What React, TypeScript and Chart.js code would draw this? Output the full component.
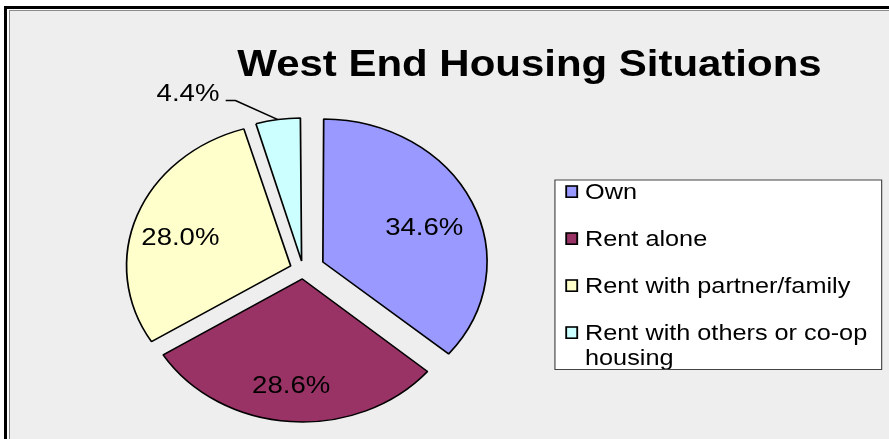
import React, { useEffect, useRef } from 'react';
import { Chart, registerables } from 'chart.js';

Chart.register(...registerables);

// ---- data ----
const categories = ['Own', 'Rent alone', 'Rent with partner/family', 'Rent with others or co-op housing'];
const shares = [34.6, 28.6, 28.0, 4.4];
const sliceColors = ['#9999FF', '#993366', '#FFFFCC', '#CCFFFF'];
const explodeOffsets = [76, 36, 46, 36];
const chartTitle = 'West End Housing Situations';

// ---- layout / style ----
const W = 889;
const H = 439;
const SX = 1.148; // horizontal stretch of the whole picture
const CX = 264;
const CY = 270;
const R = 143;
const FONT = '"Liberation Sans", Arial, Helvetica, sans-serif';

const stretchPlugin = {
  id: 'stretchAndDecor',
  afterDatasetUpdate(chart: any, args: any) {
    const meta = chart.getDatasetMeta(args.index);
    meta.data.forEach((arc: any) => {
      const t = (arc.options?.offset || 0) / 4;
      const fix = 1 - Math.sin(Math.min(Math.PI, arc.circumference || 0));
      arc.outerRadius = R - t * fix;
    });
  },
  beforeDraw(chart: any) {
    const ctx = chart.ctx;
    ctx.save();
    // background & frame (unstretched pixels)
    ctx.fillStyle = '#ffffff';
    ctx.fillRect(0, 0, W, H);
    ctx.fillStyle = '#000000';
    ctx.fillRect(4, 6, 3, H);
    ctx.fillRect(4, 6, W, 3);
    ctx.fillStyle = '#8a8a8a';
    ctx.fillRect(9, 10, 1, H);
    ctx.fillRect(9, 10, W, 1);
    ctx.fillStyle = '#EEEEEE';
    ctx.fillRect(10, 11, W, H);
    ctx.scale(SX, 1);
  },
  afterDatasetsDraw(chart: any) {
    const ctx = chart.ctx;
    const meta = chart.getDatasetMeta(0);
    const total = shares.reduce((a, b) => a + b, 0);

    // title
    ctx.save();
    ctx.fillStyle = '#000';
    ctx.textAlign = 'center';
    ctx.textBaseline = 'alphabetic';
    ctx.font = `bold 36px ${FONT}`;
    const tw = ctx.measureText(chartTitle).width;
    const fs = 36 * (509 / tw);
    ctx.font = `bold ${fs.toFixed(2)}px ${FONT}`;
    ctx.fillText(chartTitle, 461.2, 76);
    ctx.restore();

    // data labels
    ctx.save();
    ctx.font = `24px ${FONT}`;
    ctx.fillStyle = '#000';
    meta.data.forEach((arc: any, i: number) => {
      const mid = (arc.startAngle + arc.endAngle) / 2;
      const t = (arc.options.offset || 0) / 4;
      const ax = arc.x + Math.cos(mid) * t;
      const ay = arc.y + Math.sin(mid) * t;
      const txt = `${shares[i].toFixed(1)}%`;
      if (shares[i] / total >= 0.08) {
        const k = 0.7 * R;
        ctx.textAlign = 'center';
        ctx.textBaseline = 'middle';
        ctx.fillText(txt, ax + Math.cos(mid) * k - 2.5, ay + Math.sin(mid) * k + 8);
      } else {
        const px = ax + Math.cos(mid) * R;
        const py = ay + Math.sin(mid) * R;
        const ex = px - 37;
        const ey = py - 19;
        ctx.strokeStyle = '#000';
        ctx.lineWidth = 1.5;
        ctx.beginPath();
        ctx.moveTo(px, py);
        ctx.lineTo(ex, ey);
        ctx.lineTo(ex - 8.5, ey);
        ctx.stroke();
        ctx.textAlign = 'right';
        ctx.textBaseline = 'alphabetic';
        ctx.fillText(txt, ex - 14, ey + 0.5);
      }
    });
    ctx.restore();

    // legend
    ctx.save();
    const bx0 = 483.4, by0 = 180, bx1 = 768, by1 = 369.5;
    ctx.fillStyle = '#ffffff';
    ctx.fillRect(bx0, by0, bx1 - bx0, by1 - by0);
    ctx.beginPath();
    ctx.rect(bx0, by0, bx1 - bx0, by1 - by0);
    ctx.clip();
    ctx.font = `22px ${FONT}`;
    ctx.textAlign = 'left';
    ctx.textBaseline = 'alphabetic';
    const textX = 509.6;
    const maxW = bx1 - textX - 4;
    let baseY = 199;
    categories.forEach((cat, i) => {
      // wrap
      const words = cat.split(' ');
      const lines: string[] = [];
      let cur = '';
      words.forEach((w) => {
        const test = cur ? cur + ' ' + w : w;
        if (ctx.measureText(test).width > maxW && cur) {
          lines.push(cur);
          cur = w;
        } else cur = test;
      });
      if (cur) lines.push(cur);
      // marker
      ctx.fillStyle = sliceColors[i];
      ctx.fillRect(493.2, baseY - 13, 9.6, 11.2);
      ctx.strokeStyle = '#000';
      ctx.lineWidth = 1.6;
      ctx.strokeRect(493.2, baseY - 13, 9.6, 11.2);
      ctx.fillStyle = '#000';
      lines.forEach((ln, j) => ctx.fillText(ln, textX, baseY + j * 25));
      baseY += 47 + (lines.length - 1) * 25;
    });
    ctx.restore();
    ctx.save();
    ctx.strokeStyle = '#444';
    ctx.lineWidth = 1;
    ctx.strokeRect(bx0, by0, bx1 - bx0, by1 - by0);
    ctx.restore();
  },
  afterDraw(chart: any) {
    chart.ctx.restore();
  },
};

export default function App() {
  const ref = useRef<HTMLCanvasElement | null>(null);
  useEffect(() => {
    document.body.style.margin = '0';
    const canvas = ref.current;
    if (!canvas) return;
    const chart = new Chart(canvas, {
      type: 'pie',
      data: {
        labels: categories,
        datasets: [
          {
            data: shares,
            backgroundColor: sliceColors,
            borderColor: '#000000',
            borderWidth: 1.5,
            offset: explodeOffsets,
            hoverOffset: 0,
            radius: R,
          } as any,
        ],
      },
      options: {
        responsive: false,
        maintainAspectRatio: false,
        animation: false,
        events: [],
        layout: {
          padding: { left: CX - 150, right: W - (CX + 150), top: CY - 150, bottom: H - (CY + 150) },
        },
        plugins: {
          legend: { display: false },
          title: { display: false },
          tooltip: { enabled: false },
        },
      },
      plugins: [stretchPlugin],
    });
    return () => chart.destroy();
  }, []);
  return (
    <div style={{ position: 'fixed', left: 0, top: 0, width: W, height: H }}>
      <canvas ref={ref} width={W} height={H} style={{ width: W, height: H, display: 'block' }} />
    </div>
  );
}
